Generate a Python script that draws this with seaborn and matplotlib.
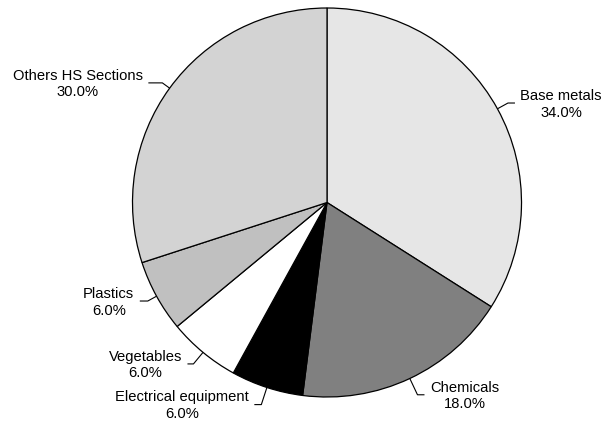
import numpy as np
import matplotlib
matplotlib.use("Agg")
import matplotlib.pyplot as plt
import seaborn as sns

# Data
categories = ["Base metals", "Chemicals", "Electrical equipment", "Vegetables", "Plastics", "Others HS Sections"]
shares = [34.0, 18.0, 6.0, 6.0, 6.0, 30.0]
colors = ["#e6e6e6", "#808080", "#000000", "#ffffff", "#c0c0c0", "#d3d3d3"]

# Label leader-line layout (radial leg, horizontal leg), in pixels
leader_radial = [12, 18, 18, 15, 10, 9]
leader_horiz = [7, 7, 7, 6, 8, 14]

sns.set_theme(style="white")
plt.rcParams['font.family'] = ['Liberation Sans', 'DejaVu Sans']

W, H = 604, 422
fig = plt.figure(figsize=(W / 100, H / 100), dpi=100)
ax = fig.add_axes([0, 0, 1, 1])

cx, cy, R = 327, H - 202.5, 194.5
wedges, _ = ax.pie(shares, colors=colors, startangle=90, counterclock=False,
                   center=(cx, cy), radius=R,
                   wedgeprops=dict(edgecolor="black", linewidth=0.9))
ax.set_xlim(0, W)
ax.set_ylim(0, H)
ax.set_aspect("equal")
ax.axis("off")

gap = 5.5
for w, name, val, dr, dh in zip(wedges, categories, shares, leader_radial, leader_horiz):
    th = np.deg2rad((w.theta1 + w.theta2) / 2)
    px, py = cx + R * np.cos(th), cy + R * np.sin(th)
    ex, ey = cx + (R + dr) * np.cos(th), cy + (R + dr) * np.sin(th)
    s = 1 if np.cos(th) >= 0 else -1
    hx = ex + s * dh
    ax.plot([px, ex, hx], [py, ey, ey], color="black", linewidth=0.8, solid_capstyle="butt")
    ax.text(hx + s * gap, ey - 1.2, f"{name}\n{val:.1f}%", ha="left" if s > 0 else "right",
            va="center", multialignment="center", fontsize=10.6, linespacing=1.25, color="black")

fig.savefig("out.png", dpi=100, facecolor="white")
